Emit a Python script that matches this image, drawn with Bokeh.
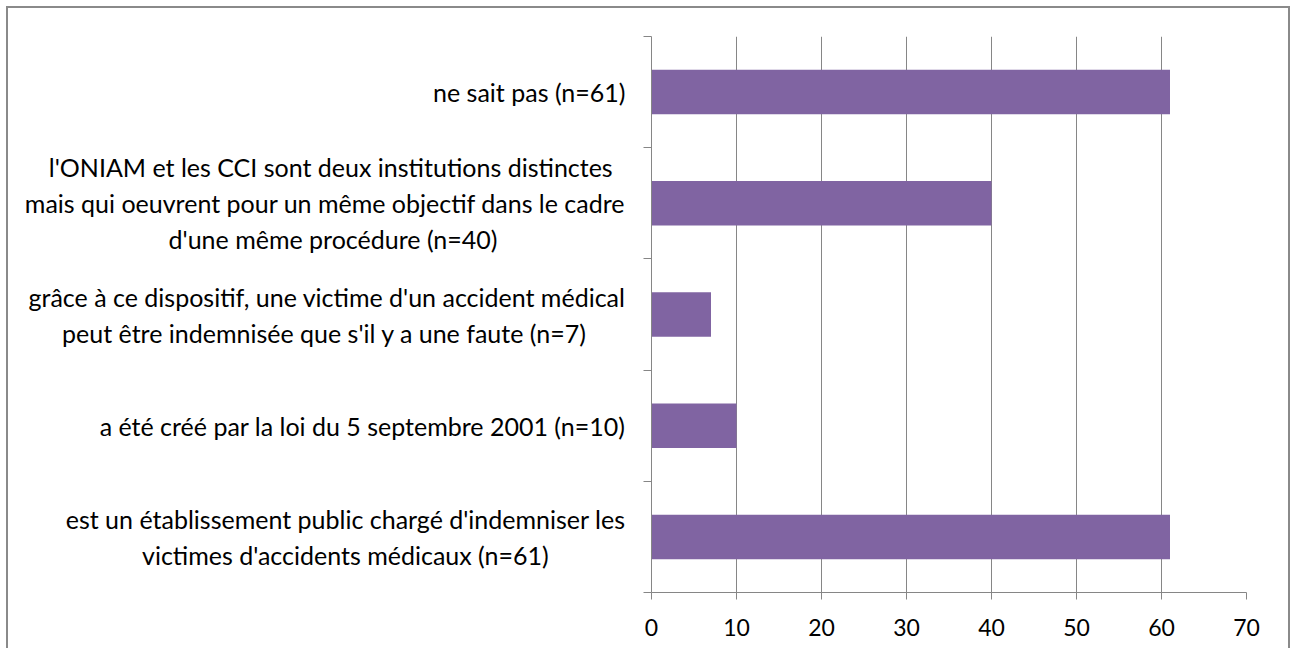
from bokeh.plotting import figure
from bokeh.models import Range1d, FixedTicker, LinearAxis
from bokeh.embed import file_html
from bokeh.resources import INLINE

categories = [
    "ne sait pas (n=61)",
    "l'ONIAM et les CCI sont deux institutions distinctes\nmais qui oeuvrent pour un même objectif dans le cadre\nd'une même procédure (n=40)",
    "grâce à ce dispositif, une victime d'un accident médical\npeut être indemnisée que s'il y a une faute (n=7)",
    "a été créé par la loi du 5 septembre 2001 (n=10)",
    "est un établissement public chargé d'indemniser les\nvictimes d'accidents médicaux (n=61)",
]
values = [61, 40, 7, 10, 61]
x_ticks = [0, 10, 20, 30, 40, 50, 60, 70]

# layout only: rendered pixel widths of each label line (Lato 25px),
# used to centre the lines of a block that Bokeh right-aligns
line_widths = [[195], [575, 600, 355], [595, 523], [533], [558, 405]]
NBSP_W = 6.2


def centred(text, widths):
    lines = text.split("\n")
    wmax = max(widths)
    out = []
    for line, w in zip(lines, widths):
        pad = int(round((wmax - w) / 2 / NBSP_W))
        out.append(line + "\u00a0" * pad)
    return "\n".join(out)


n = len(categories)
ypos = [n - i - 0.5 for i in range(n)]

FONT = "Lato"
GRAY = "#868686"

p = figure(
    frame_width=595, frame_height=556,
    min_border_left=643, min_border_right=42,
    min_border_top=28, min_border_bottom=56,
    x_range=Range1d(0, 70), y_range=Range1d(0, n),
    output_backend="svg", toolbar_location=None,
    x_axis_location="below", y_axis_location=None,
)
p.outline_line_color = None
p.background_fill_color = "white"
p.border_fill_color = "white"

p.hbar(y=ypos, right=values, left=0, height=0.4,
       fill_color="#8064A2", line_color="#8064A2", line_width=0)

# x axis
xa = p.xaxis[0]
xa.ticker = FixedTicker(ticks=x_ticks, minor_ticks=[])
xa.axis_line_color = GRAY
xa.major_tick_line_color = GRAY
xa.major_tick_out = 7
xa.major_tick_in = 0
xa.minor_tick_line_color = None
xa.major_label_text_font = FONT
xa.major_label_text_font_size = "23px"
xa.major_label_text_color = "black"
xa.major_label_standoff = 19

p.xgrid.ticker = FixedTicker(ticks=x_ticks)
p.xgrid.grid_line_color = GRAY
p.xgrid.grid_line_alpha = 1
p.ygrid.grid_line_color = None

# y axis: labels at band centres, ticks at band boundaries
ya = LinearAxis(
    ticker=FixedTicker(ticks=ypos, minor_ticks=list(range(n + 1))),
    major_label_overrides={y: centred(c, w) for y, c, w in zip(ypos, categories, line_widths)},
)
ya.axis_line_color = GRAY
ya.major_tick_line_color = None
ya.major_tick_out = 0
ya.major_tick_in = 0
ya.minor_tick_line_color = GRAY
ya.minor_tick_out = 8
ya.minor_tick_in = 0
ya.major_label_text_font = FONT
ya.major_label_text_font_size = "25px"
ya.major_label_text_color = "black"
ya.major_label_standoff = 18
p.add_layout(ya, "left")

p.styles = {
    "margin": "6px 0 0 6px",
    "border-top": "2px solid #8a8a8a",
    "border-left": "2px solid #8a8a8a",
    "border-right": "2px solid #8a8a8a",
}

open("out.html", "w").write(file_html(p, INLINE))
